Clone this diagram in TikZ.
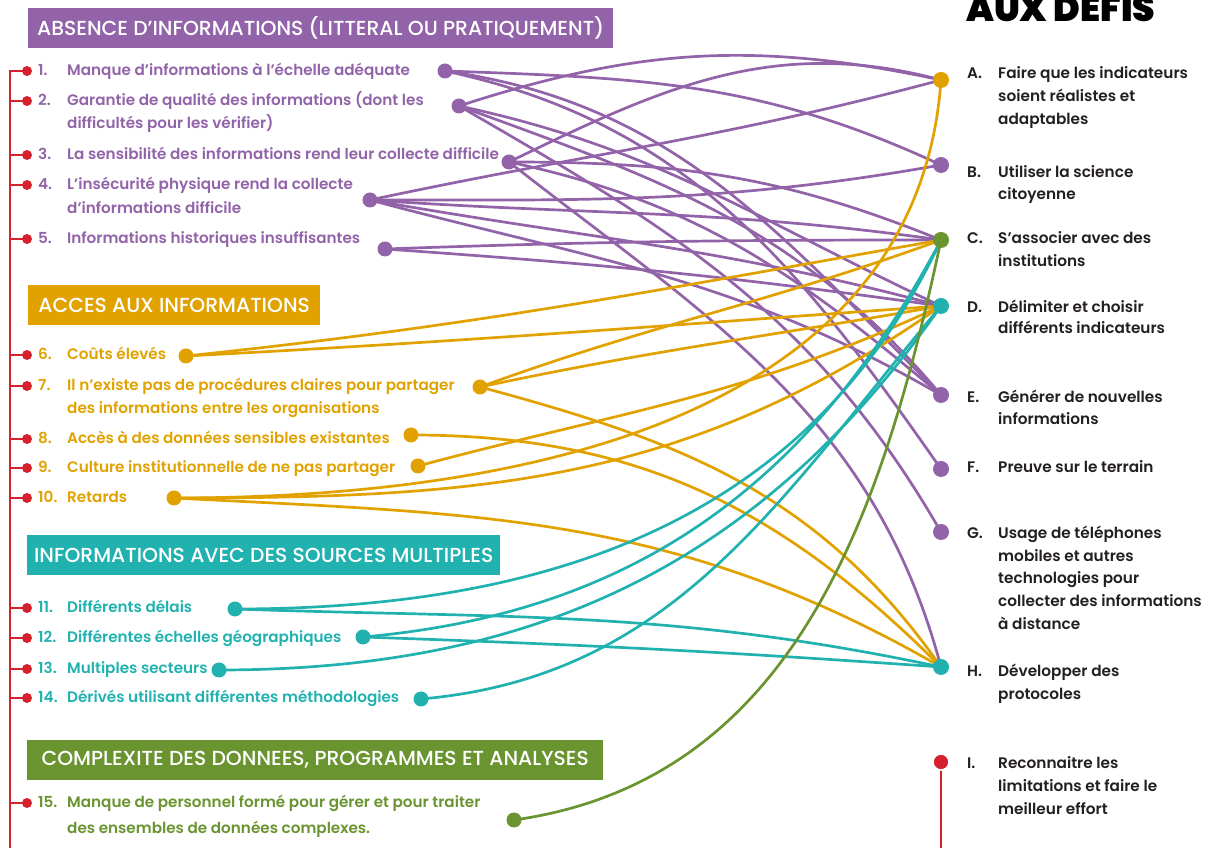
\documentclass[tikz,border=0pt]{standalone}
\usepackage{fontspec}
\setmainfont{Poppins}
\newfontfamily\medfont{Poppins Medium}
\newfontfamily\semifont{Poppins SemiBold}
\newfontfamily\blackfont{Poppins Black}
\definecolor{cpur}{RGB}{146,99,168}
\definecolor{corg}{RGB}{225,162,0}
\definecolor{cteal}{RGB}{33,178,176}
\definecolor{cgrn}{RGB}{106,148,48}
\definecolor{cred}{RGB}{214,32,46}
\definecolor{ctxt}{RGB}{35,31,32}
\begin{document}
\begin{tikzpicture}[x=1pt,y=1pt,
  pl/.style={line width=2.7pt, cpur},
  ol/.style={line width=2.7pt, corg},
  tl/.style={line width=2.7pt, cteal},
  gl/.style={line width=2.7pt, cgrn},
  redline/.style={line width=2.2pt, cred},
  bigdot/.style={circle, inner sep=0pt, minimum size=15pt},
  rdot/.style={circle, inner sep=0pt, minimum size=16pt},
  reddot/.style={circle, fill=cred, inner sep=0pt, minimum size=10pt},
  itm/.style={anchor=base west, inner sep=0pt, font=\semifont\fontsize{15.2}{17}\selectfont},
  sol/.style={anchor=base west, inner sep=0pt, text=ctxt, font=\semifont\fontsize{15.3}{17}\selectfont},
  hd/.style={anchor=west, inner sep=0pt, minimum height=40pt, text=white, font=\medfont\fontsize{20.3}{22}\selectfont},
]
\useasboundingbox (0,0) rectangle (1212,848);

% ---------- coordinates of connector ends
\coordinate (L1) at (445,777);
\coordinate (L2) at (459,742);
\coordinate (L3) at (509,686);
\coordinate (L4) at (370,648);
\coordinate (L5) at (385,599);
\coordinate (L6) at (186,492);
\coordinate (L7) at (480,461);
\coordinate (L8) at (411,413);
\coordinate (L9) at (418,382);
\coordinate (L10) at (174,350);
\coordinate (L11) at (235,239);
\coordinate (L12) at (363,211);
\coordinate (L13) at (219,178);
\coordinate (L14) at (421,149);
\coordinate (L15) at (514,28);
\coordinate (RA) at (941,768);
\coordinate (RB) at (941,683);
\coordinate (RC) at (941,608);
\coordinate (RD) at (941,542);
\coordinate (RE) at (941,453);
\coordinate (RF) at (941,379);
\coordinate (RG) at (941,316);
\coordinate (RH) at (941,181);
\coordinate (RI) at (941,86);

% ---------- headings
\node[hd, fill=cpur, minimum width=585pt] (h1) at (28,820) {ABSENCE D’INFORMATIONS (LITTERAL OU PRATIQUEMENT)};
\node[hd, fill=corg, minimum width=292pt] (h2) at (28,543) {ACCES AUX INFORMATIONS};
\node[hd, fill=cteal, minimum width=473pt] (h3) at (27,293) {INFORMATIONS AVEC DES SOURCES MULTIPLES};
\node[hd, fill=cgrn, minimum width=576pt] (h4) at (27,88) {COMPLEXITE DES DONNEES, PROGRAMMES ET ANALYSES};

% ---------- left items
\node[itm, text=cpur] (t1) at (38,772) {\makebox[29pt][l]{1.}Manque d’informations à l’échelle adéquate};
\node[itm, text=cpur] (t2) at (38,742) {\makebox[29pt][l]{2.}Garantie de qualité des informations (dont les};
\node[itm, text=cpur] (t2b) at (67,719) {difficultés pour les vérifier)};
\node[itm, text=cpur] (t3) at (38,688) {\makebox[29pt][l]{3.}La sensibilité des informations rend leur collecte difficile};
\node[itm, text=cpur] (t4) at (38,658) {\makebox[29pt][l]{4.}L’insécurité physique rend la collecte};
\node[itm, text=cpur] (t4b) at (67,634) {d’informations difficile};
\node[itm, text=cpur] (t5) at (38,604) {\makebox[29pt][l]{5.}Informations historiques insuffisantes};
\node[itm, text=corg] (t6) at (38,488) {\makebox[29pt][l]{6.}Coûts élevés};
\node[itm, text=corg] (t7) at (38,457) {\makebox[29pt][l]{7.}Il n’existe pas de procédures claires pour partager};
\node[itm, text=corg] (t7b) at (67,434) {des informations entre les organisations};
\node[itm, text=corg] (t8) at (38,404) {\makebox[29pt][l]{8.}Accès à des données sensibles existantes};
\node[itm, text=corg] (t9) at (38,375) {\makebox[29pt][l]{9.}Culture institutionnelle de ne pas partager};
\node[itm, text=corg] (t10) at (38,345) {\makebox[29pt][l]{10.}Retards};
\node[itm, text=cteal] (t11) at (38,235) {\makebox[29pt][l]{11.}Différents délais};
\node[itm, text=cteal] (t12) at (38,205) {\makebox[29pt][l]{12.}Différentes échelles géographiques};
\node[itm, text=cteal] (t13) at (38,174) {\makebox[29pt][l]{13.}Multiples secteurs};
\node[itm, text=cteal] (t14) at (38,145) {\makebox[29pt][l]{14.}Dérivés utilisant différentes méthodologies};
\node[itm, text=cgrn] (t15) at (38,40) {\makebox[29pt][l]{15.}Manque de personnel formé pour gérer et pour traiter};
\node[itm, text=cgrn] (t15b) at (67,14) {des ensembles de données complexes.};

% ---------- right items
\node[anchor=base west, inner sep=0pt, font=\blackfont\fontsize{36}{36}\selectfont, text=black] (title) at (966,826) {AUX DEFIS};
\node[sol] (sA) at (967,769) {\makebox[31pt][l]{A.}Faire que les indicateurs};
\node[sol] (sA2) at (998,746) {soient réalistes et};
\node[sol] (sA3) at (998,723) {adaptables};
\node[sol] (sB) at (967,670) {\makebox[31pt][l]{B.}Utiliser la science};
\node[sol] (sB2) at (998,648) {citoyenne};
\node[sol] (sC) at (967,604) {\makebox[31pt][l]{C.}S’associer avec des};
\node[sol] (sC2) at (998,581) {institutions};
\node[sol] (sD) at (967,535) {\makebox[31pt][l]{D.}Délimiter et choisir};
\node[sol] (sD2) at (998,514) {différents indicateurs};
\node[sol] (sE) at (967,445) {\makebox[31pt][l]{E.}Générer de nouvelles};
\node[sol] (sE2) at (998,423) {informations};
\node[sol] (sF) at (967,375) {\makebox[31pt][l]{F.}Preuve sur le terrain};
\node[sol] (sG) at (967,309) {\makebox[31pt][l]{G.}Usage de téléphones};
\node[sol] (sG2) at (998,286) {mobiles et autres};
\node[sol] (sG3) at (998,264) {technologies pour};
\node[sol] (sG4) at (998,241) {collecter des informations};
\node[sol] (sG5) at (998,218) {à distance};
\node[sol] (sH) at (967,171) {\makebox[31pt][l]{H.}Développer des};
\node[sol] (sH2) at (998,148) {protocoles};
\node[sol] (sI) at (967,79) {\makebox[31pt][l]{I.}Reconnaitre les};
\node[sol] (sI2) at (998,56) {limitations et faire le};
\node[sol] (sI3) at (998,33) {meilleur effort};

% ---------- red spines
\coordinate (spinetop) at (10,777);
\coordinate (spinebot) at (10,0);
\foreach \k/\yy in {1/777,2/747,3/693,4/663,5/609,6/493,7/462,8/409,9/380,10/350,11/240,12/210,13/179,14/150,15/45}{
  \node[reddot] (r\k) at (27,\yy) {};
  \draw[redline] (r\k.center) -- (r\k.center -| spinetop);
}
\draw[redline] (r1.center) -- (spinetop) -- (spinebot);
\draw[redline] (RI) -- (RI |- spinebot);

% ---------- purple connectors
\draw[pl] (L2) to[out=18,in=168] (RA);
\draw[pl] (L3) to[out=26,in=165] (RA);
\draw[pl] (L4) to[out=12,in=195] (RA);
\draw[pl] (L1) to[out=-2,in=155] (RB);
\draw[pl] (L4) to[out=0,in=190] (RB);
\draw[pl] (L3) to[out=0,in=158] (RC);
\draw[pl] (L4) to[out=-4,in=172] (RC);
\draw[pl] (L5) to[out=2,in=180] (RC);
\draw[pl] (L2) to[out=-12,in=155] (RD);
\draw[pl] (L4) to[out=-10,in=165] (RD);
\draw[pl] (L5) to[out=-4,in=172] (RD);
\draw[pl] (L1) to[out=-8,in=135] (RE);
\draw[pl] (L2) to[out=-20,in=130] (RE);
\draw[pl] (L3) to[out=-12,in=140] (RE);
\draw[pl] (L4) to[out=-15,in=150] (RE);
\draw[pl] (L1) to[out=-12,in=125] (RF);
\draw[pl] (L2) to[out=-30,in=120] (RG);
\draw[pl] (L3) to[out=-38,in=105] (RH);

% ---------- orange connectors
\draw[ol] (L6) to[out=6,in=190] (RC);
\draw[ol] (L6) to[out=3,in=184] (RD);
\draw[ol] (L7) to[out=20,in=200] (RC);
\draw[ol] (L7) to[out=12,in=190] (RD);
\draw[ol] (L7) to[out=-15,in=125] (RH);
\draw[ol] (L8) to[out=0,in=135] (RH);
\draw[ol] (L9) to[out=15,in=205] (RD);
\draw[ol] (L10) to[out=0,in=266] (RA);
\draw[ol] (L10) to[out=0,in=215] (RD);
\draw[ol] (L10) to[out=-3,in=150] (RH);

% ---------- teal connectors
\draw[tl] (L11) to[out=0,in=245] (RC);
\draw[tl] (L12) to[out=5,in=242] (RC);
\draw[tl] (L13) to[out=0,in=235] (RD);
\draw[tl] (L14) to[out=5,in=230] (RD);
\draw[tl] (L11) to[out=-2,in=168] (RH);
\draw[tl] (L12) to[out=-2,in=176] (RH);

% ---------- green connector
\draw[gl] (L15) to[out=8,in=258] (RC);

% ---------- dots
\foreach \k in {1,2,3,4,5}{\node[bigdot, fill=cpur] (d\k) at (L\k) {};}
\foreach \k in {6,7,8,9,10}{\node[bigdot, fill=corg] (d\k) at (L\k) {};}
\foreach \k in {11,12,13,14}{\node[bigdot, fill=cteal] (d\k) at (L\k) {};}
\node[bigdot, fill=cgrn] (d15) at (L15) {};
\node[rdot, fill=corg] (dA) at (RA) {};
\node[rdot, fill=cpur] (dB) at (RB) {};
\node[rdot, fill=cgrn] (dC) at (RC) {};
\node[rdot, fill=cteal] (dD) at (RD) {};
\node[rdot, fill=cpur] (dE) at (RE) {};
\node[rdot, fill=cpur] (dF) at (RF) {};
\node[rdot, fill=cpur] (dG) at (RG) {};
\node[rdot, fill=cteal] (dH) at (RH) {};
\node[rdot, fill=cred, draw=white, line width=1.5pt] (dI) at (RI) {};
\end{tikzpicture}
\end{document}
